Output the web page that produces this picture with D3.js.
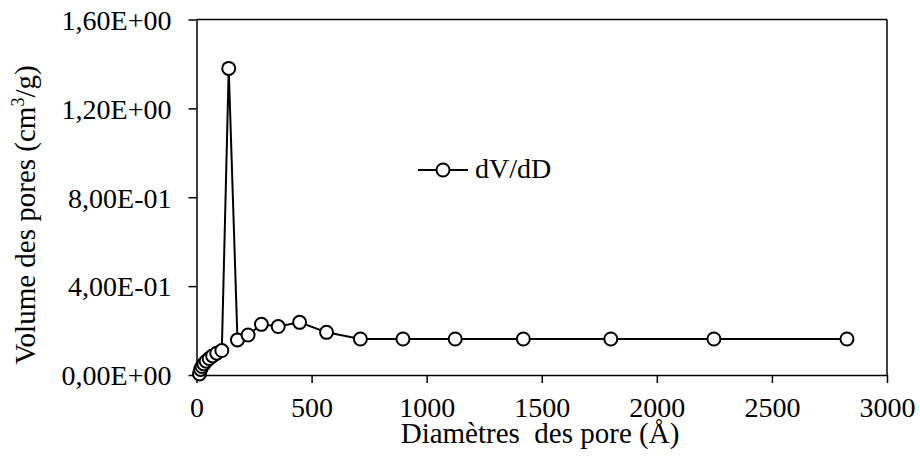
<!DOCTYPE html>
<html><head><meta charset="utf-8">
<script src="https://cdn.jsdelivr.net/npm/d3@7"></script>
</head><body style="margin:0;background:#fff"><svg id="c" width="920" height="456" font-family="Liberation Serif" style="display:block"></svg>
<script>
const diam = [13, 18, 24, 32, 42, 55, 70, 88, 110, 140, 178, 224, 282, 355, 448, 565, 712, 897, 1124, 1420, 1800, 2248, 2826];
const dvdd = [0.005, 0.025, 0.038, 0.05, 0.062, 0.074, 0.086, 0.098, 0.11, 1.38, 0.158, 0.18, 0.228, 0.218, 0.237, 0.192, 0.162, 0.162, 0.162, 0.162, 0.162, 0.162, 0.162];
const xTicks = [0, 500, 1000, 1500, 2000, 2500, 3000];
const yTicks = [0, 0.4, 0.8, 1.2, 1.6];
const yTickLabels = ["0,00E+00", "4,00E-01", "8,00E-01", "1,20E+00", "1,60E+00"];
const seriesName = "dV/dD";
const xTitle = "Diamètres\u00a0 des pore (Å)";

const svg = d3.select("#c");
const L = 196.5, R = 887, T = 19.5, B = 375;
const x = d3.scaleLinear().domain([0, 3000]).range([L, R]);
const y = d3.scaleLinear().domain([0, 1.6]).range([B, T]);
const FS = 28;
function serif(sel, size) {
  return sel.attr("font-family", "Liberation Serif").style("font-family", '"Liberation Serif"')
    .style("font-size", size + "px").attr("fill", "#000");
}

// frame
svg.append("line").attr("x1", L).attr("x2", R).attr("y1", T).attr("y2", T).attr("stroke", "#000").attr("stroke-width", 1.5);
svg.append("line").attr("x1", R).attr("x2", R).attr("y1", T).attr("y2", B).attr("stroke", "#000").attr("stroke-width", 1.5);

const xa = svg.append("g").attr("transform", `translate(0,${B})`)
  .call(d3.axisBottom(x).tickValues(xTicks).tickSize(8).tickSizeOuter(0).tickFormat(d3.format("d")));
const ya = svg.append("g").attr("transform", `translate(${L},0)`)
  .call(d3.axisLeft(y).tickValues(yTicks).tickSize(8).tickSizeOuter(0).tickFormat((d, i) => yTickLabels[i]));
[xa, ya].forEach(g => {
  g.attr("font-family", "Liberation Serif").attr("font-size", FS);
  g.select(".domain").attr("stroke", "#000").attr("stroke-width", 1.5);
  g.selectAll(".tick line").attr("stroke", "#000").attr("stroke-width", 1.5);
  serif(g.selectAll("text"), FS);
});
xa.selectAll("text").attr("dy", "0").attr("y", 42);
ya.selectAll("text").attr("x", -25).attr("dy", "0.35em");

// line & markers
const pts = diam.map((d, i) => [d, dvdd[i]]);
svg.append("path").datum(pts)
  .attr("d", d3.line().x(d => x(d[0])).y(d => y(d[1])))
  .attr("fill", "none").attr("stroke", "#000").attr("stroke-width", 2);
svg.append("g").selectAll("circle").data(pts).join("circle")
  .attr("cx", d => x(d[0])).attr("cy", d => y(d[1])).attr("r", 6.5)
  .attr("fill", "#fff").attr("stroke", "#000").attr("stroke-width", 2);

// legend
const lg = svg.append("g");
lg.append("line").attr("x1", 418).attr("x2", 468).attr("y1", 170).attr("y2", 170).attr("stroke", "#000").attr("stroke-width", 2);
lg.append("circle").attr("cx", 443).attr("cy", 170).attr("r", 6.5).attr("fill", "#fff").attr("stroke", "#000").attr("stroke-width", 2);
serif(lg.append("text").attr("x", 475).attr("y", 178), FS).text(seriesName);

// titles
serif(svg.append("text").attr("x", 540).attr("y", 443).attr("text-anchor", "middle"), 29).text(xTitle);
const yt = serif(svg.append("text").attr("transform", "translate(35,215) rotate(-90)").attr("text-anchor", "middle"), 29);
yt.append("tspan").text("Volume des pores (cm");
yt.append("tspan").style("font-size", "18px").attr("dy", -11).text("3");
yt.append("tspan").attr("dy", 11).text("/g)");
</script></body></html>
